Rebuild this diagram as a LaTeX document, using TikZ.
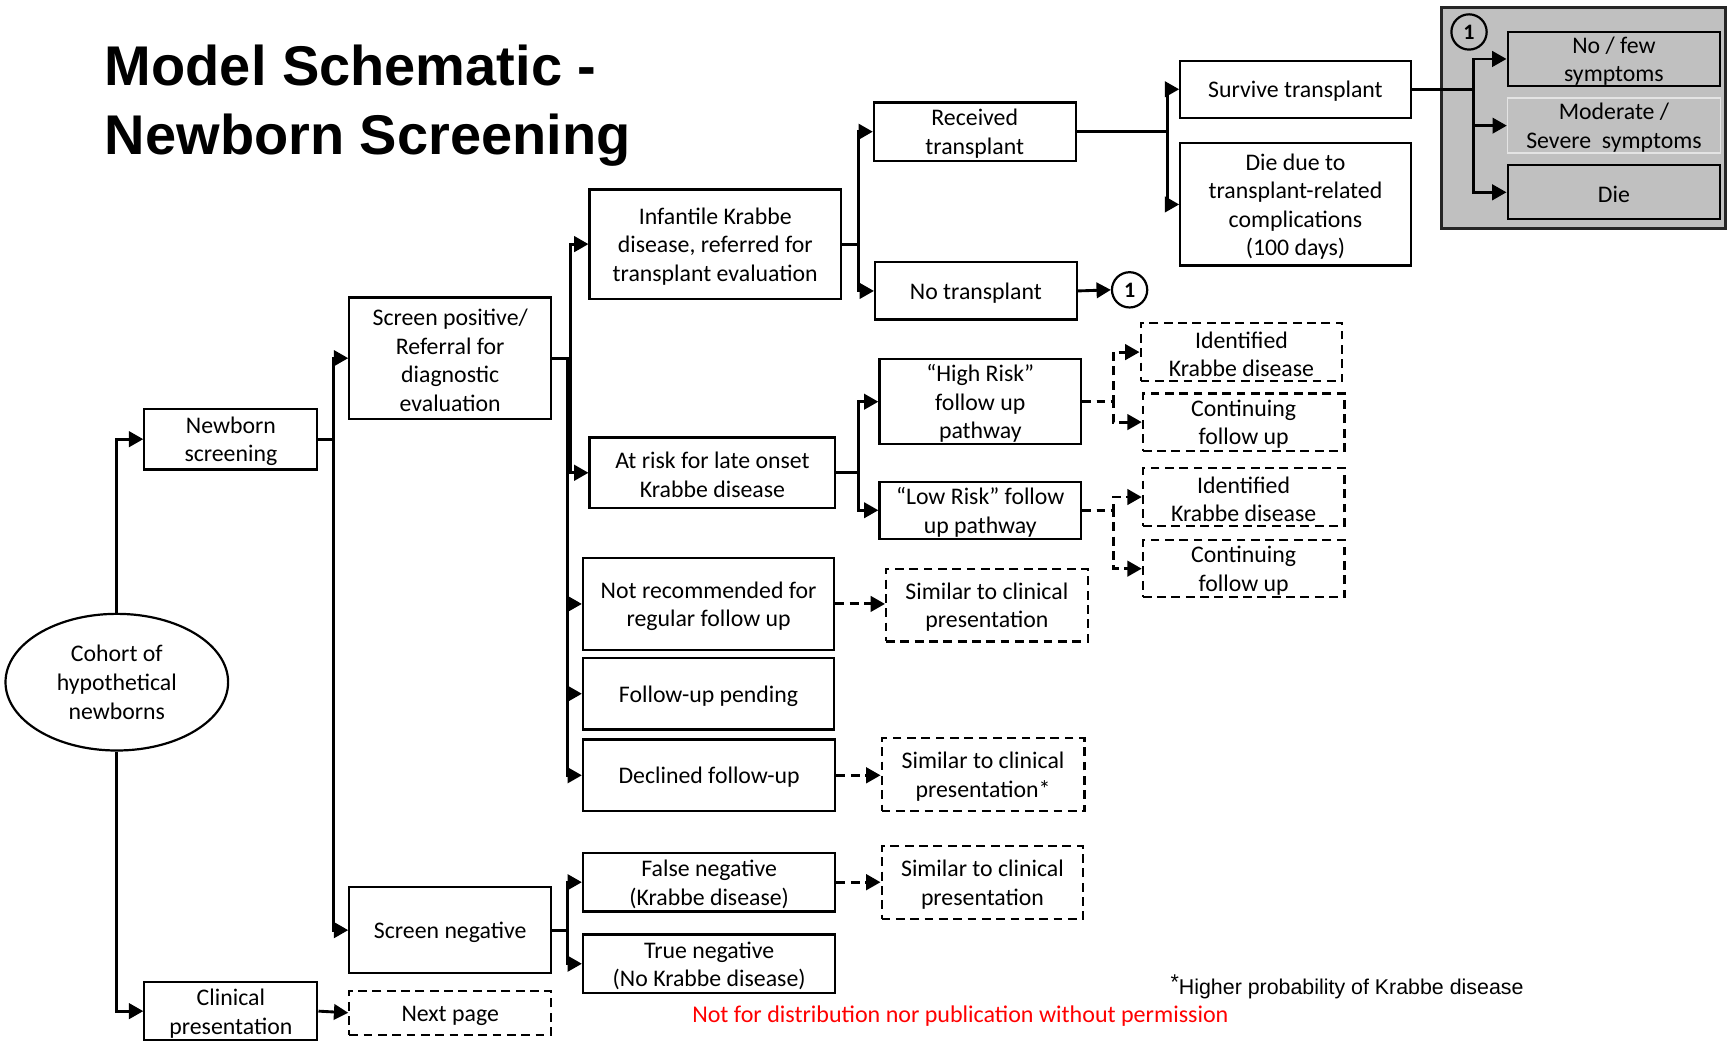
\documentclass[tikz,border=0pt]{standalone}
\usepackage{fontspec}
\setmainfont{Carlito}
\newfontfamily\arialfont{Liberation Sans}
\usetikzlibrary{arrows.meta,shapes.geometric}
\definecolor{panelgray}{RGB}{192,192,192}
\definecolor{lightedge}{RGB}{228,228,228}
% box from corners: style, name, x1, y1, x2, y2, text
\newcommand\mkbox[7]{%
  \pgfmathsetmacro\bxw{#5-#3}\pgfmathsetmacro\bxh{#6-#4}%
  \pgfmathsetmacro\bxx{(#3+#5)/2}\pgfmathsetmacro\bxy{(#4+#6)/2}%
  \node[#1, minimum width=\bxw pt, minimum height=\bxh pt] (#2) at (\bxx,\bxy) {\rule{0pt}{19pt}#7};}
\begin{document}
\begin{tikzpicture}[x=1pt,y=-1pt,
  box/.style={draw, line width=2pt, inner sep=0pt, align=center, font=\fontsize{21.6}{26}\selectfont},
  dbox/.style={box, dash pattern=on 8pt off 5pt},
  gbox/.style={box, fill=panelgray},
  arr/.style={line width=2.6pt, -{Triangle[length=13pt,width=14pt]}},
  darr/.style={arr, dash pattern=on 8pt off 5pt},
  num/.style={circle, draw, line width=2pt, minimum size=32pt, inner sep=0pt, font=\bfseries\fontsize{20}{24}\selectfont}]
\useasboundingbox (0,0) rectangle (1568,946);

% title
\node[anchor=base west, inner sep=0pt, font=\arialfont\bfseries\fontsize{50.8}{62}\selectfont] (t1) at (95,78) {Model Schematic -};
\node[anchor=base west, inner sep=0pt, font=\arialfont\bfseries\fontsize{50.8}{62}\selectfont] (t2) at (95,140) {Newborn Screening};

% grey panel
\mkbox{draw=black!85, fill=panelgray, line width=2.6pt, inner sep=0pt}{panel}{1308}{7}{1566}{207}{}
\mkbox{gbox}{nf}{1368}{29}{1561}{78}{No / few\\symptoms}
\mkbox{gbox, draw=lightedge, line width=1.4pt}{ms}{1368}{89}{1561}{139}{Moderate /\\Severe\ \ symptoms}
\mkbox{gbox}{di}{1368}{150}{1561}{199}{Die}
\node[num] (c0) at (1333,29) {1};

% main nodes
\node[draw, ellipse, line width=2pt, minimum width=202pt, minimum height=124pt, inner sep=0pt, align=center, font=\fontsize{21.6}{26}\selectfont] (coh) at (106,619) {Cohort of\\hypothetical\\newborns};
\mkbox{box}{ns}{131}{371}{288}{426}{Newborn\\screening}
\mkbox{box}{cp}{131}{891}{288}{944}{Clinical\\presentation}
\mkbox{dbox}{np}{317}{899}{500}{939}{Next page}
\mkbox{box}{sp}{317}{270}{500}{380}{Screen positive/\\Referral for\\diagnostic\\evaluation}
\mkbox{box}{sn}{317}{805}{500}{883}{Screen negative}
\mkbox{box}{ik}{535}{172}{763}{271}{Infantile Krabbe\\disease, referred for\\transplant evaluation}
\mkbox{box}{ar}{535}{397}{758}{461}{At risk for late onset\\Krabbe disease}
\mkbox{box}{nr}{529}{506}{757}{590}{Not recommended for\\regular follow up}
\mkbox{box}{fp}{529}{597}{757}{662}{Follow-up pending}
\mkbox{box}{dc}{529}{671}{758}{736}{Declined follow-up}
\mkbox{box}{fn}{529}{774}{758}{827}{False negative\\(Krabbe disease)}
\mkbox{box}{tn}{529}{848}{758}{901}{True negative\\(No Krabbe disease)}
\mkbox{box}{rt}{793}{93}{976}{146}{Received\\transplant}
\mkbox{box}{nt}{794}{238}{977}{290}{No transplant}
\node[num] (c1) at (1025,263) {1};
\mkbox{box}{sv}{1071}{55}{1280}{107}{Survive transplant}
\mkbox{box}{dt}{1071}{130}{1280}{241}{Die due to\\transplant-related\\complications\\(100 days)}
\mkbox{box}{hr}{798}{326}{981}{403}{“High Risk”\\follow up\\pathway}
\mkbox{box}{lr}{798}{437}{981}{489}{“Low Risk” follow\\up pathway}
\mkbox{dbox}{id1}{1035}{293}{1218}{346}{Identified\\Krabbe disease}
\mkbox{dbox}{co1}{1037}{357}{1220}{409}{Continuing\\follow up}
\mkbox{dbox}{id2}{1037}{425}{1220}{477}{Identified\\Krabbe disease}
\mkbox{dbox}{co2}{1037}{490}{1220}{542}{Continuing\\follow up}
\mkbox{dbox}{s1}{804}{516}{987}{582}{Similar to clinical\\presentation}
\mkbox{dbox}{s2}{800}{670}{984}{736}{Similar to clinical\\presentation*}
\mkbox{dbox}{s3}{800}{768}{983}{834}{Similar to clinical\\presentation}

% notes
\node[anchor=base west, inner sep=0pt, font=\arialfont\fontsize{19.4}{23}\selectfont] (foot) at (1062,902) {\raisebox{4pt}{*}Higher probability of Krabbe disease};
\node[anchor=base west, inner sep=0pt, text=red, font=\fontsize{21.8}{26}\selectfont] (warn) at (628,928) {Not for distribution nor publication without permission};

% connectors
\draw[arr] (coh.north) |- (ns.west);
\draw[arr] (coh.south) |- (cp.west);
\draw[arr] (ns.east) -- ++(14,0) |- (sp.west);
\draw[arr] (ns.east) -- ++(14,0) |- (sn.west);
\draw[arr] (cp.east) -- (np.west);
\draw[arr] (sp.east) -- ++(17,0) |- (ik.west);
\draw[arr] (sp.east) -- ++(17,0) |- (ar.west);
\draw[arr] (sp.east) -- ++(14,0) |- (nr.west);
\draw[arr] (sp.east) -- ++(14,0) |- (fp.west);
\draw[arr] (sp.east) -- ++(14,0) |- (dc.west);
\draw[arr] (sn.east) -- ++(14,0) |- (fn.west);
\draw[arr] (sn.east) -- ++(14,0) |- (tn.west);
\draw[arr] (ik.east) -- ++(15,0) |- (rt.west);
\draw[arr] (ik.east) -- ++(15,0) |- (nt.west);
\draw[arr] (nt.east) -- (c1.west);
\draw[arr] (rt.east) -- ++(82,0) |- (sv.west);
\draw[arr] (rt.east) -- ++(82,0) |- (dt.west);
\draw[arr] (sv.east) -- ++(56,0) |- (nf.west);
\draw[arr] (sv.east) -- ++(56,0) |- (ms.west);
\draw[arr] (sv.east) -- ++(56,0) |- (di.west);
\draw[arr] (ar.east) -- ++(20,0) |- (hr.west);
\draw[arr] (ar.east) -- ++(20,0) |- (lr.west);
\draw[darr] (hr.east) -- ++(28,0) |- (id1.west);
\draw[darr] (hr.east) -- ++(28,0) |- (co1.west);
\draw[darr] (lr.east) -- ++(28,0) |- (id2.west);
\draw[darr] (lr.east) -- ++(28,0) |- (co2.west);
\draw[darr] (nr.east) -- (nr.east -| s1.west);
\draw[darr] (dc.east) -- (dc.east -| s2.west);
\draw[darr] (fn.east) -- (fn.east -| s3.west);
\end{tikzpicture}
\end{document}
